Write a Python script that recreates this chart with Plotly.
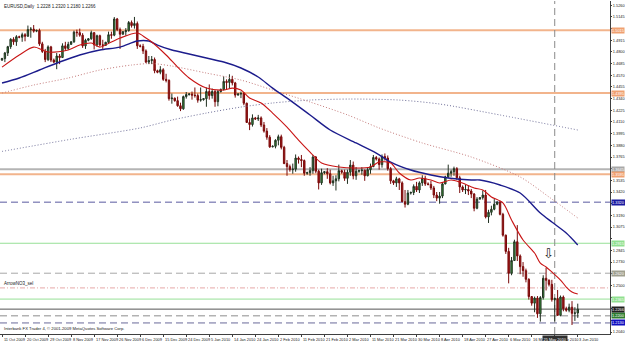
import plotly.graph_objects as go

# ---------------- data ----------------
tick_labels = ["11 Oct 2009", "20 Oct 2009", "29 Oct 2009", "8 Nov 2009", "17 Nov 2009",
               "26 Nov 2009", "6 Dec 2009", "15 Dec 2009", "24 Dec 2009", "5 Jan 2010",
               "14 Jan 2010", "24 Jan 2010", "2 Feb 2010", "11 Feb 2010", "21 Feb 2010",
               "2 Mar 2010", "11 Mar 2010", "21 Mar 2010", "30 Mar 2010", "8 Apr 2010",
               "18 Apr 2010", "27 Apr 2010", "6 May 2010", "16 May 2010", "25 May 2010",
               "3 Jun 2010"]

open_ = [1.4720, 1.4735, 1.4790, 1.4852, 1.4925, 1.4900, 1.4950, 1.4945, 1.4970, 1.4955,
         1.5020, 1.5025, 1.5005, 1.5012, 1.4880, 1.4805, 1.4725, 1.4850, 1.4720, 1.4700,
         1.4760, 1.4745, 1.4860, 1.4835, 1.4875, 1.4900, 1.4995, 1.4990, 1.4965, 1.4860,
         1.4915, 1.4930, 1.4990, 1.4870, 1.4960, 1.4870, 1.4865, 1.4895, 1.4970, 1.4965,
         1.5125, 1.5020, 1.4975, 1.5000, 1.5010, 1.5090, 1.5060, 1.5080, 1.4860, 1.4855,
         1.4810, 1.4700, 1.4715, 1.4725, 1.4615, 1.4600, 1.4625, 1.4530, 1.4520, 1.4340,
         1.4345, 1.4320, 1.4270, 1.4240, 1.4360, 1.4380, 1.4385, 1.4375, 1.4370, 1.4325,
         1.4330, 1.4340, 1.4410, 1.4370, 1.4410, 1.4310, 1.4410, 1.4430, 1.4510, 1.4500,
         1.4530, 1.4495, 1.4375, 1.4385, 1.4390, 1.4295, 1.4105, 1.4085, 1.4150, 1.4140,
         1.4150, 1.4080, 1.4020, 1.3960, 1.3865, 1.3870, 1.3930, 1.3965, 1.3860, 1.3700,
         1.3670, 1.3640, 1.3645, 1.3755, 1.3740, 1.3730, 1.3605, 1.3610, 1.3630, 1.3765,
         1.3625, 1.3510, 1.3610, 1.3620, 1.3600, 1.3510, 1.3530, 1.3550, 1.3630, 1.3615,
         1.3555, 1.3615, 1.3685, 1.3580, 1.3625, 1.3630, 1.3635, 1.3580, 1.3640, 1.3670,
         1.3760, 1.3745, 1.3690, 1.3770, 1.3755, 1.3650, 1.3530, 1.3510, 1.3550, 1.3510,
         1.3325, 1.3300, 1.3410, 1.3415, 1.3475, 1.3440, 1.3510, 1.3555, 1.3500, 1.3495,
         1.3460, 1.3390, 1.3360, 1.3380, 1.3500, 1.3570, 1.3605, 1.3620, 1.3650, 1.3560,
         1.3470, 1.3440, 1.3445, 1.3430, 1.3400, 1.3260, 1.3350, 1.3365, 1.3390, 1.3175,
         1.3220, 1.3250, 1.3300, 1.3320, 1.3200, 1.2995, 1.2835, 1.2620, 1.2745, 1.2930,
         1.2790, 1.2685, 1.2645, 1.2560, 1.2390, 1.2325, 1.2375, 1.2220, 1.2380, 1.2570,
         1.2550, 1.2510, 1.2360, 1.2370, 1.2205, 1.2385, 1.2270, 1.2255, 1.2285, 1.2225,
         1.2228]
high = [1.4742, 1.4800, 1.4860, 1.4935, 1.4945, 1.4965, 1.4960, 1.4990, 1.4985, 1.5060,
        1.5045, 1.5065, 1.5020, 1.5030, 1.4900, 1.4830, 1.4865, 1.4860, 1.4735, 1.4790,
        1.4780, 1.4885, 1.4900, 1.4900, 1.4905, 1.5010, 1.5020, 1.5030, 1.4985, 1.4930,
        1.4935, 1.5010, 1.4995, 1.4970, 1.4970, 1.4920, 1.4900, 1.5000, 1.5000, 1.5144,
        1.5135, 1.5040, 1.5005, 1.5035, 1.5105, 1.5110, 1.5145, 1.5100, 1.4875, 1.4880,
        1.4825, 1.4760, 1.4760, 1.4745, 1.4625, 1.4660, 1.4640, 1.4585, 1.4530, 1.4390,
        1.4350, 1.4360, 1.4300, 1.4370, 1.4405, 1.4395, 1.4410, 1.4450, 1.4390, 1.4450,
        1.4345, 1.4450, 1.4480, 1.4440, 1.4425, 1.4425, 1.4440, 1.4560, 1.4530, 1.4580,
        1.4565, 1.4505, 1.4395, 1.4410, 1.4405, 1.4300, 1.4145, 1.4185, 1.4160, 1.4180,
        1.4165, 1.4110, 1.4050, 1.3980, 1.3880, 1.3940, 1.3985, 1.3985, 1.3875, 1.3735,
        1.3690, 1.3700, 1.3790, 1.3770, 1.3785, 1.3740, 1.3620, 1.3665, 1.3785, 1.3775,
        1.3640, 1.3650, 1.3625, 1.3655, 1.3640, 1.3580, 1.3585, 1.3690, 1.3640, 1.3640,
        1.3640, 1.3735, 1.3720, 1.3665, 1.3640, 1.3665, 1.3640, 1.3665, 1.3700, 1.3785,
        1.3775, 1.3760, 1.3790, 1.3800, 1.3780, 1.3665, 1.3540, 1.3570, 1.3560, 1.3525,
        1.3440, 1.3440, 1.3425, 1.3495, 1.3520, 1.3525, 1.3585, 1.3580, 1.3515, 1.3530,
        1.3480, 1.3420, 1.3420, 1.3510, 1.3580, 1.3690, 1.3640, 1.3670, 1.3665, 1.3580,
        1.3485, 1.3490, 1.3485, 1.3450, 1.3410, 1.3370, 1.3370, 1.3435, 1.3440, 1.3245,
        1.3285, 1.3350, 1.3330, 1.3335, 1.3215, 1.3000, 1.2870, 1.2780, 1.2950, 1.3094,
        1.2805, 1.2730, 1.2665, 1.2570, 1.2395, 1.2390, 1.2395, 1.2395, 1.2600, 1.2673,
        1.2560, 1.2555, 1.2380, 1.2455, 1.2400, 1.2400, 1.2290, 1.2320, 1.2345, 1.2285,
        1.2320]
low = [1.4712, 1.4700, 1.4760, 1.4830, 1.4870, 1.4860, 1.4935, 1.4900, 1.4905, 1.4950,
       1.4940, 1.4990, 1.4995, 1.4860, 1.4790, 1.4700, 1.4710, 1.4700, 1.4690, 1.4630,
       1.4680, 1.4740, 1.4810, 1.4820, 1.4870, 1.4890, 1.4950, 1.4950, 1.4840, 1.4830,
       1.4905, 1.4920, 1.4825, 1.4850, 1.4855, 1.4830, 1.4860, 1.4880, 1.4930, 1.4955,
       1.5005, 1.4830, 1.4970, 1.4960, 1.5000, 1.5040, 1.5030, 1.4830, 1.4845, 1.4780,
       1.4690, 1.4680, 1.4680, 1.4590, 1.4590, 1.4580, 1.4515, 1.4500, 1.4320, 1.4290,
       1.4310, 1.4260, 1.4217, 1.4230, 1.4340, 1.4370, 1.4330, 1.4350, 1.4300, 1.4310,
       1.4320, 1.4260, 1.4330, 1.4340, 1.4260, 1.4265, 1.4400, 1.4420, 1.4425, 1.4440,
       1.4470, 1.4350, 1.4370, 1.4345, 1.4275, 1.4100, 1.4030, 1.4065, 1.4130, 1.4120,
       1.4060, 1.4005, 1.3935, 1.3855, 1.3860, 1.3850, 1.3880, 1.3840, 1.3695, 1.3580,
       1.3620, 1.3600, 1.3620, 1.3700, 1.3665, 1.3580, 1.3590, 1.3580, 1.3600, 1.3605,
       1.3445, 1.3490, 1.3595, 1.3550, 1.3495, 1.3480, 1.3435, 1.3525, 1.3600, 1.3530,
       1.3500, 1.3580, 1.3545, 1.3540, 1.3610, 1.3590, 1.3530, 1.3575, 1.3600, 1.3665,
       1.3730, 1.3640, 1.3660, 1.3730, 1.3630, 1.3500, 1.3490, 1.3470, 1.3440, 1.3320,
       1.3267, 1.3290, 1.3395, 1.3390, 1.3420, 1.3410, 1.3480, 1.3480, 1.3485, 1.3440,
       1.3360, 1.3330, 1.3305, 1.3360, 1.3495, 1.3560, 1.3570, 1.3580, 1.3540, 1.3410,
       1.3420, 1.3400, 1.3390, 1.3360, 1.3230, 1.3250, 1.3345, 1.3345, 1.3160, 1.3115,
       1.3190, 1.3240, 1.3290, 1.3190, 1.2980, 1.2810, 1.2520, 1.2600, 1.2740, 1.2740,
       1.2610, 1.2585, 1.2530, 1.2360, 1.2300, 1.2235, 1.2180, 1.2143, 1.2360, 1.2450,
       1.2490, 1.2340, 1.2145, 1.2200, 1.2195, 1.2245, 1.2240, 1.2235, 1.2110, 1.2150,
       1.2180]
close = [1.4735, 1.4790, 1.4852, 1.4925, 1.4900, 1.4950, 1.4945, 1.4970, 1.4955, 1.5020,
         1.5025, 1.5005, 1.5012, 1.4880, 1.4805, 1.4725, 1.4850, 1.4720, 1.4700, 1.4760,
         1.4745, 1.4860, 1.4835, 1.4875, 1.4900, 1.4995, 1.4990, 1.4965, 1.4860, 1.4915,
         1.4930, 1.4990, 1.4870, 1.4960, 1.4870, 1.4865, 1.4895, 1.4970, 1.4965, 1.5125,
         1.5020, 1.4975, 1.5000, 1.5010, 1.5090, 1.5060, 1.5080, 1.4860, 1.4855, 1.4810,
         1.4700, 1.4715, 1.4725, 1.4615, 1.4600, 1.4625, 1.4530, 1.4520, 1.4340, 1.4345,
         1.4320, 1.4270, 1.4240, 1.4360, 1.4380, 1.4385, 1.4375, 1.4370, 1.4325, 1.4330,
         1.4340, 1.4410, 1.4370, 1.4410, 1.4310, 1.4410, 1.4430, 1.4510, 1.4500, 1.4530,
         1.4495, 1.4375, 1.4385, 1.4390, 1.4295, 1.4105, 1.4085, 1.4150, 1.4140, 1.4150,
         1.4080, 1.4020, 1.3960, 1.3865, 1.3870, 1.3930, 1.3965, 1.3860, 1.3700, 1.3670,
         1.3640, 1.3645, 1.3755, 1.3740, 1.3730, 1.3605, 1.3610, 1.3630, 1.3765, 1.3625,
         1.3510, 1.3610, 1.3620, 1.3600, 1.3510, 1.3530, 1.3550, 1.3630, 1.3615, 1.3555,
         1.3615, 1.3685, 1.3580, 1.3625, 1.3630, 1.3635, 1.3580, 1.3640, 1.3670, 1.3760,
         1.3745, 1.3690, 1.3770, 1.3755, 1.3650, 1.3530, 1.3510, 1.3550, 1.3510, 1.3325,
         1.3300, 1.3410, 1.3415, 1.3475, 1.3440, 1.3510, 1.3555, 1.3500, 1.3495, 1.3460,
         1.3390, 1.3360, 1.3380, 1.3500, 1.3570, 1.3605, 1.3620, 1.3650, 1.3560, 1.3470,
         1.3440, 1.3445, 1.3430, 1.3400, 1.3260, 1.3350, 1.3365, 1.3390, 1.3175, 1.3220,
         1.3250, 1.3300, 1.3320, 1.3200, 1.2995, 1.2835, 1.2620, 1.2745, 1.2930, 1.2790,
         1.2685, 1.2645, 1.2560, 1.2390, 1.2325, 1.2375, 1.2220, 1.2380, 1.2570, 1.2550,
         1.2510, 1.2360, 1.2370, 1.2205, 1.2385, 1.2270, 1.2255, 1.2285, 1.2225, 1.2228,
         1.2266]

# moving averages (bar index, price)
ma_red_bar = [0, 6, 11, 16, 23, 27, 31, 34, 38, 41, 47, 50, 52, 57, 61, 65, 71, 77, 80, 83,
              86, 90, 94, 99, 103, 107, 111, 117, 123, 128, 131, 135, 138, 142, 145, 149,
              152, 156, 159, 164, 167, 170, 174, 177, 181, 185, 187, 189, 191, 194, 196,
              198, 200]
ma_red_val = [1.4651, 1.4770, 1.4848, 1.4799, 1.4819, 1.4868, 1.4888, 1.4848, 1.4898, 1.4937,
              1.4986, 1.4937, 1.4898, 1.4770, 1.4651, 1.4543, 1.4444, 1.4425, 1.4444, 1.4425,
              1.4346, 1.4297, 1.4198, 1.4060, 1.3932, 1.3814, 1.3706, 1.3666, 1.3656, 1.3666,
              1.3715, 1.3706, 1.3607, 1.3538, 1.3558, 1.3538, 1.3509, 1.3538, 1.3518, 1.3460,
              1.3440, 1.3371, 1.3312, 1.3144, 1.2947, 1.2819, 1.2720, 1.2681, 1.2632, 1.2553,
              1.2484, 1.2435, 1.2415]
ma_blue_bar = [0, 6, 13, 20, 27, 34, 41, 47, 51, 54, 59, 65, 71, 77, 83, 89, 94, 100, 107,
               114, 123, 130, 135, 142, 149, 155, 163, 166, 173, 180, 187, 191, 196, 200]
ma_blue_val = [1.4494, 1.4543, 1.4622, 1.4701, 1.4770, 1.4819, 1.4848, 1.4908, 1.4908, 1.4868,
               1.4819, 1.4780, 1.4740, 1.4701, 1.4642, 1.4553, 1.4444, 1.4326, 1.4179, 1.4031,
               1.3903, 1.3804, 1.3715, 1.3637, 1.3588, 1.3558, 1.3538, 1.3538, 1.3489, 1.3410,
               1.3213, 1.3124, 1.3016, 1.2898]
ma_pink_bar = [0, 11, 23, 34, 45, 52, 59, 71, 83, 94, 107, 120, 131, 146, 163, 180, 190, 200]
ma_pink_val = [1.4395, 1.4474, 1.4543, 1.4622, 1.4671, 1.4686, 1.4661, 1.4592, 1.4523, 1.4425,
               1.4307, 1.4180, 1.4051, 1.3903, 1.3765, 1.3568, 1.3371, 1.3164]
ma_gray_bar = [0, 24, 48, 59, 71, 83, 94, 107, 121, 138, 152, 173, 200]
ma_gray_val = [1.3820, 1.3940, 1.4051, 1.4129, 1.4198, 1.4257, 1.4297, 1.4326, 1.4336, 1.4326,
               1.4287, 1.4179, 1.4031]

# horizontal levels
level_prices = [1.5015, 1.4395, 1.3645, 1.3595, 1.3320, 1.2915, 1.2620, 1.2475, 1.2365,
                1.2200, 1.2130]
price_ticks = [1.5260, 1.5145, 1.5030, 1.4915, 1.4800, 1.4685, 1.4570, 1.4455, 1.4340, 1.4225,
               1.4110, 1.3995, 1.3880, 1.3765, 1.3650, 1.3535, 1.3420, 1.3305, 1.3190, 1.3075,
               1.2960, 1.2845, 1.2730, 1.2615, 1.2500, 1.2385, 1.2270, 1.2155, 1.2040]
vline_bar = 192
vline_label = "25 May 2010"
arrow_bar = 190
arrow_price = 1.2810
object_name = "ArrowNO3_sel"

# ---------------- styles ----------------
level_styles = [
    dict(color="#f2b48c", width=2, dash="solid", box="#f0a070"),
    dict(color="#f2b48c", width=2, dash="solid", box="#f0a070"),
    dict(color="#b4b4b4", width=2, dash="solid", box="#a8a8a8"),
    dict(color="#f2b48c", width=2, dash="solid", box="#f0a070"),
    dict(color="#5a5aa0", width=1, dash="7px,4px", box="#1a1aa0"),
    dict(color="#96e096", width=1, dash="solid", box="#90e090"),
    dict(color="#a8a8a8", width=1, dash="7px,4px", box="#a0a090"),
    dict(color="#e6a8a8", width=1, dash="5px,2px,1px,2px", box=None),
    dict(color="#96e096", width=1, dash="solid", box="#90e090"),
    dict(color="#8c8c8c", width=1, dash="7px,4px", box="#2e7d32"),
    dict(color="#6a6a9a", width=1, dash="7px,4px", box="#1010c0"),
]

FONT = "Liberation Sans"
X_FONT = 3.9
Y_FONT = 3.9
Y_LO, Y_HI = 1.2021, 1.5302
PLOT_H = 333  # pixel height of plot area (height - t - b)
bars = list(range(len(close)))
tick_pos = bars[::8]

fig = go.Figure()

# levels (drawn under candles)
box_prices = []
for p, st in zip(level_prices, level_styles):
    fig.add_shape(type="line", xref="paper", x0=0, x1=1, yref="y", y0=p, y1=p,
                  line=dict(color=st["color"], width=st["width"], dash=st["dash"]),
                  layer="below")
    if st["box"]:
        box_prices.append(p)
        fig.add_annotation(xref="paper", x=1, xanchor="left", xshift=1, yref="y", y=p,
                           text=f"{p:.4f}", showarrow=False, bgcolor=st["box"],
                           font=dict(size=Y_FONT, color="white", family=FONT), borderpad=0)

# bid line
bid = close[-1]
box_prices.append(bid)
fig.add_shape(type="line", xref="paper", x0=0, x1=1, yref="y", y0=bid, y1=bid,
              line=dict(color="#555555", width=1), layer="below")
fig.add_annotation(xref="paper", x=1, xanchor="left", xshift=1, yref="y", y=bid,
                   text=f"{bid:.4f}", showarrow=False, bgcolor="#202020",
                   font=dict(size=Y_FONT, color="white", family=FONT), borderpad=0)

# vertical separator
fig.add_shape(type="line", xref="x", x0=vline_bar, x1=vline_bar, yref="paper", y0=0, y1=1,
              line=dict(color="#8a8a8a", width=1, dash="7px,4px"), layer="below")

# moving averages
for bx, vals, col, dash, w in [(ma_gray_bar, ma_gray_val, "#6e6e98", "1px,2px", 1),
                                (ma_pink_bar, ma_pink_val, "#c47a7a", "1px,2px", 1),
                                (ma_blue_bar, ma_blue_val, "#1c1c8c", "solid", 1.4),
                                (ma_red_bar, ma_red_val, "#c81414", "solid", 1.1)]:
    fig.add_trace(go.Scatter(x=bx, y=vals, mode="lines",
                             line=dict(color=col, width=w, dash=dash, shape="spline",
                                       smoothing=0.8),
                             showlegend=False, hoverinfo="skip"))

# candles
fig.add_trace(go.Candlestick(
    x=bars, open=open_, high=high, low=low, close=close,
    increasing=dict(line=dict(color="#203020", width=1), fillcolor="#3a9a3a"),
    decreasing=dict(line=dict(color="#7a0a0a", width=1), fillcolor="#a01818"),
    whiskerwidth=0, showlegend=False, hoverinfo="skip"))

# arrow object
fig.add_annotation(xref="x", x=arrow_bar, yref="y", y=arrow_price, text="\u21e9",
                   showarrow=False, font=dict(size=13, color="#222222", family="DejaVu Sans"))

# object name text
fig.add_annotation(xref="paper", x=0.003, xanchor="left", yref="y", y=level_prices[7],
                   yanchor="bottom", text=object_name, showarrow=False,
                   font=dict(size=4.5, color="#202020", family=FONT))

# title
fig.add_annotation(xref="paper", x=0.003, xanchor="left", yref="paper", y=0.998,
                   yanchor="top",
                   text=f"EURUSD,Daily  {open_[-1]:.4f} {high[-1]:.4f} {low[-1]:.4f} {close[-1]:.4f}",
                   showarrow=False, font=dict(size=4.5, color="#202020", family=FONT))

# copyright
fig.add_annotation(xref="paper", x=0.003, xanchor="left", yref="paper", y=0.003,
                   yanchor="bottom",
                   text="Interbank FX Trader 4, \u00a9 2001-2009 MetaQuotes Software Corp.",
                   showarrow=False, font=dict(size=4.2, color="#202020", family=FONT))

# date labels on the time axis (left-aligned at their bar, MT4 style)
for pos, lab in zip(tick_pos, tick_labels):
    fig.add_annotation(xref="x", x=pos, xanchor="left", xshift=0.5, yref="paper", y=0,
                       yanchor="top", yshift=-1.5, text=lab, showarrow=False,
                       font=dict(size=X_FONT, color="#202020", family=FONT), borderpad=0)

# highlighted date box on time axis
fig.add_annotation(xref="x", x=vline_bar, yref="paper", y=0, yanchor="top", yshift=-1,
                   text=vline_label, showarrow=False, bgcolor="#303030",
                   font=dict(size=X_FONT, color="white", family=FONT), borderpad=0.5)

# price labels: hide those hidden under the coloured boxes
px_per_unit = PLOT_H / (Y_HI - Y_LO)
price_text = [("" if any(abs(v - b) * px_per_unit < 5 for b in box_prices) else f"{v:.4f}")
              for v in price_ticks]

fig.update_layout(
    width=625, height=341,
    margin=dict(l=0, r=15, t=1, b=7),
    paper_bgcolor="white", plot_bgcolor="white",
    font=dict(family=FONT, color="#202020"),
    xaxis=dict(range=[-0.7, 211.2], showgrid=False, zeroline=False,
               rangeslider=dict(visible=False),
               tickmode="array", tickvals=tick_pos, showticklabels=False,
               ticks="outside", ticklen=2, tickcolor="#404040",
               showline=True, linecolor="#404040", linewidth=1, automargin=False),
    yaxis=dict(range=[Y_LO, Y_HI], side="right", showgrid=False, zeroline=False,
               tickmode="array", tickvals=price_ticks, ticktext=price_text,
               ticks="outside", ticklen=1, tickcolor="#404040",
               tickfont=dict(size=Y_FONT, family=FONT, color="#202020"),
               showline=True, linecolor="#404040", linewidth=1, automargin=False),
)

fig.write_html("out.html")
